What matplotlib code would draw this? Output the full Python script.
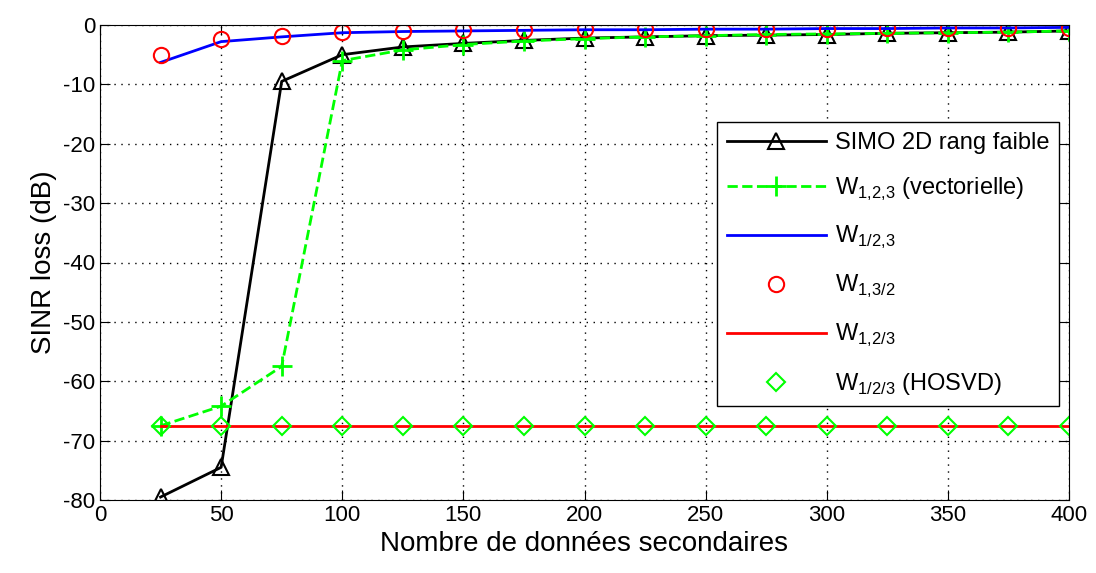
import matplotlib
matplotlib.use('Agg')
import matplotlib.pyplot as plt

plt.rcParams['font.family'] = ['Liberation Sans', 'DejaVu Sans']
plt.rcParams['mathtext.fontset'] = 'custom'
plt.rcParams['mathtext.rm'] = 'Liberation Sans'
plt.rcParams['axes.unicode_minus'] = False

x = [25, 50, 75, 100, 125, 150, 175, 200, 225, 250, 275, 300, 325, 350, 375, 400]

simo = [-79.5, -74.5, -9.5, -5.0, -3.7, -3.1, -2.6, -2.2, -2.0, -1.8, -1.7, -1.6, -1.4, -1.3, -1.2, -1.0]
w123_vect = [-67.5, -64.2, -57.5, -6.0, -4.2, -3.3, -2.7, -2.3, -2.0, -1.8, -1.6, -1.5, -1.4, -1.3, -1.2, -1.0]
w1_23 = [-6.3, -2.8, -2.0, -1.3, -1.1, -1.0, -0.9, -0.8, -0.8, -0.7, -0.7, -0.6, -0.6, -0.5, -0.5, -0.4]
w13_2 = [-5.0, -2.3, -1.8, -1.2, -1.0, -0.8, -0.8, -0.7, -0.7, -0.6, -0.6, -0.6, -0.5, -0.5, -0.5, -0.5]
w12_3 = [-67.5] * 16
w1_2_3_hosvd = [-67.5] * 16

fig = plt.figure(figsize=(10.96, 5.73), dpi=100)
ax = fig.add_axes([100/1096, 1 - 500/573, 969/1096, 475/573])

ax.plot(x, simo, color='k', lw=2, marker='^', ms=11, mfc='none', mew=1.5,
        label='SIMO 2D rang faible')
ax.plot(x, w123_vect, color='#00ff00', lw=2, ls='--', marker='+', ms=14, mew=2,
        label=r'W$_{\mathregular{1{,}2{,}3}}$ (vectorielle)')
ax.plot(x, w1_23, color='b', lw=2, label=r'W$_{\mathregular{1/2{,}3}}$')
ax.plot(x, w13_2, ls='none', color='r', marker='o', ms=11, mfc='none', mew=1.5,
        label=r'W$_{\mathregular{1{,}3/2}}$')
ax.plot(x, w12_3, color='r', lw=2, label=r'W$_{\mathregular{1{,}2/3}}$')
ax.plot(x, w1_2_3_hosvd, ls='none', color='#00ff00', marker='D', ms=9, mfc='none', mew=1.5,
        label=r'W$_{\mathregular{1/2/3}}$ (HOSVD)')

ax.set_xlim(0, 400)
ax.set_ylim(-80, 0)
ax.set_xticks(range(0, 401, 50))
ax.set_yticks(range(-80, 1, 10))
ax.grid(True, ls=(0, (1, 4)), color='k', lw=1)
ax.tick_params(labelsize=16, direction='in', length=7, top=True, right=True)
ax.set_xlabel('Nombre de données secondaires', fontsize=20)
ax.set_ylabel('SINR loss (dB)', fontsize=20)

leg = ax.legend(loc='upper right', bbox_to_anchor=(0.99, 0.795), fontsize=17,
                fancybox=False, framealpha=1, edgecolor='k', handlelength=4.2,
                handletextpad=0.4, labelspacing=0.92, borderpad=0.4, borderaxespad=0)
leg.get_frame().set_linewidth(1)

fig.savefig('out.png', dpi=100)
